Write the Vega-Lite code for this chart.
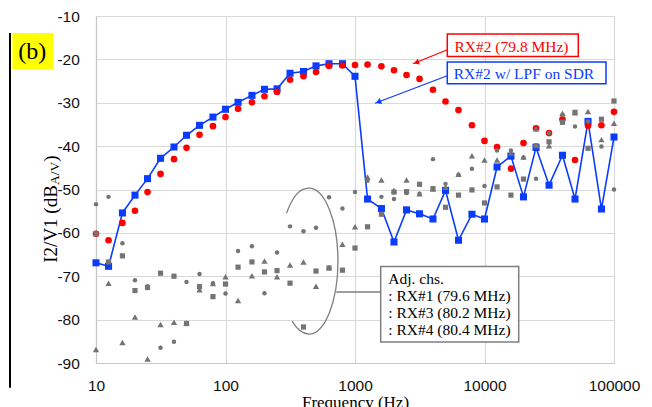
{
  "$schema": "https://vega.github.io/schema/vega-lite/v6.json",
  "width": 518,
  "height": 347,
  "autosize": {"type": "none"},
  "padding": {"left": 96, "top": 16, "right": 38, "bottom": 44},
  "background": "white",
  "config": {
    "view": {"stroke": null},
    "axis": {
      "grid": true,
      "gridColor": "#d9d9d9",
      "gridWidth": 1.2,
      "domainColor": "#c8c8c8",
      "domainWidth": 1.2,
      "ticks": false,
      "tickSize": 0,
      "labelFont": "Liberation Sans",
      "labelFontSize": 15.5,
      "labelColor": "#111111",
      "labelFlush": false,
      "labelOverlap": false
    }
  },
  "datasets": {
    "meas": [
      {"f": 10, "lpf": -66.9, "rx2": -60.2, "rx1": -53.4, "rx3": -60.2, "rx4": -86.9},
      {"f": 12.5, "lpf": -67.7, "rx2": -61.7, "rx1": -51.7, "rx3": -66.7, "rx4": -71.6},
      {"f": 16, "lpf": -55.4, "rx2": -57.7, "rx1": -62.4, "rx3": -65.3, "rx4": -85.3},
      {"f": 20, "lpf": -51.3, "rx2": -54.9, "rx1": -70.9, "rx3": -73.3, "rx4": -79.4},
      {"f": 25, "lpf": -47.5, "rx2": -50.6, "rx1": -72.3, "rx3": -72.6, "rx4": -89.1},
      {"f": 31.5, "lpf": -42.8, "rx2": -46.4, "rx1": -86.5, "rx3": -69.3, "rx4": -81.1},
      {"f": 40, "lpf": -40.2, "rx2": -43.0, "rx1": -85.1, "rx3": -70.0, "rx4": -80.6},
      {"f": 50, "lpf": -37.5, "rx2": -40.4, "rx1": -71.3, "rx3": -80.9, "rx4": -80.8},
      {"f": 63, "lpf": -35.2, "rx2": -37.4, "rx1": -69.5, "rx3": -72.4, "rx4": -73.1},
      {"f": 80, "lpf": -33.3, "rx2": -35.4, "rx1": -71.6, "rx3": -74.7, "rx4": -71.7},
      {"f": 100, "lpf": -31.5, "rx2": -33.3, "rx1": -74.0, "rx3": -71.8, "rx4": -70.1},
      {"f": 125, "lpf": -29.9, "rx2": -31.4, "rx1": -64.2, "rx3": -67.9, "rx4": -75.6},
      {"f": 160, "lpf": -28.3, "rx2": -29.9, "rx1": -63.1, "rx3": -66.7, "rx4": -69.9},
      {"f": 200, "lpf": -26.9, "rx2": -28.5, "rx1": -73.9, "rx3": -69.0, "rx4": -66.5},
      {"f": 250, "lpf": -26.8, "rx2": -27.5, "rx1": -64.5, "rx3": -68.7, "rx4": -70.1},
      {"f": 315, "lpf": -23.2, "rx2": -24.7, "rx1": -58.5, "rx3": -71.6, "rx4": -67.4},
      {"f": 400, "lpf": -22.8, "rx2": -23.9, "rx1": -59.6, "rx3": -81.7, "rx4": -66.7},
      {"f": 500, "lpf": -21.5, "rx2": -22.9, "rx1": -58.8, "rx3": -68.8, "rx4": -72.3},
      {"f": 630, "lpf": -21.0, "rx2": -21.5, "rx1": -51.8, "rx3": -68.1, "rx4": -68.0},
      {"f": 800, "lpf": -21.0, "rx2": -21.4, "rx1": -54.4, "rx3": -68.6, "rx4": -62.6},
      {"f": 1000, "lpf": -23.9, "rx2": -21.3, "rx1": -50.6, "rx3": -63.5, "rx4": -58.6},
      {"f": 1250, "lpf": -52.2, "rx2": -21.2, "rx1": -48.0, "rx3": -58.6, "rx4": -47.1},
      {"f": 1600, "lpf": -54.4, "rx2": -21.6, "rx1": -51.7, "rx3": -55.7, "rx4": -47.8},
      {"f": 2000, "lpf": -62.1, "rx2": -22.5, "rx1": -52.2, "rx3": -50.6, "rx4": -50.2},
      {"f": 2500, "lpf": -54.7, "rx2": -23.6, "rx1": -50.8, "rx3": -50.5, "rx4": -47.8},
      {"f": 3150, "lpf": -55.6, "rx2": -24.5, "rx1": -51.0, "rx3": -48.8, "rx4": -51.0},
      {"f": 4000, "lpf": -56.8, "rx2": -27.0, "rx1": -43.0, "rx3": -49.8, "rx4": -49.9},
      {"f": 5000, "lpf": -50.2, "rx2": -29.7, "rx1": -48.7, "rx3": -54.1, "rx4": -49.5},
      {"f": 6300, "lpf": -61.7, "rx2": -31.7, "rx1": -46.6, "rx3": -51.3, "rx4": -46.5},
      {"f": 8000, "lpf": -55.7, "rx2": -35.2, "rx1": -45.2, "rx3": -50.1, "rx4": -42.2},
      {"f": 10000, "lpf": -56.8, "rx2": -38.8, "rx1": -49.2, "rx3": -53.1, "rx4": -43.2},
      {"f": 12500, "lpf": -44.8, "rx2": -40.2, "rx1": -41.0, "rx3": -49.4, "rx4": -43.2},
      {"f": 16000, "lpf": -42.3, "rx2": -45.2, "rx1": -41.0, "rx3": -51.3, "rx4": -41.6},
      {"f": 20000, "lpf": -51.7, "rx2": -39.3, "rx1": -42.6, "rx3": -47.6, "rx4": -42.5},
      {"f": 25000, "lpf": -40.3, "rx2": -35.9, "rx1": -47.5, "rx3": -39.9, "rx4": -36.0},
      {"f": 31500, "lpf": -49.0, "rx2": -37.0, "rx1": -37.0, "rx3": -39.0, "rx4": -39.9},
      {"f": 40000, "lpf": -42.1, "rx2": -33.8, "rx1": -32.8, "rx3": -34.5, "rx4": -32.4},
      {"f": 50000, "lpf": -52.2, "rx2": -43.2, "rx1": -35.5, "rx3": -32.2, "rx4": -32.3},
      {"f": 63000, "lpf": -34.3, "rx2": -35.3, "rx1": -34.3, "rx3": -40.5, "rx4": -32.0},
      {"f": 80000, "lpf": -54.5, "rx2": -35.2, "rx1": -40.1, "rx3": -33.8, "rx4": -38.5},
      {"f": 100000, "lpf": -37.9, "rx2": -32.1, "rx1": -50.0, "rx3": -29.6, "rx4": -34.7}
    ]
  },
  "layer": [
    {
      "data": {"name": "meas"},
      "mark": {"type": "line", "color": "#0a3cff", "strokeWidth": 1.6},
      "encoding": {
        "x": {
          "field": "f", "type": "quantitative",
          "scale": {"type": "log", "domain": [10, 100000], "nice": false},
          "axis": {
            "values": [10, 100, 1000, 10000, 100000],
            "format": "d",
            "labelPadding": 15.6,
            "title": "Frequency (Hz)",
            "titleFont": "Liberation Serif",
            "titleFontSize": 17,
            "titleFontWeight": "normal",
            "titleColor": "#000000",
            "titleBaseline": "alphabetic",
            "titleY": 44
          }
        },
        "y": {
          "field": "lpf", "type": "quantitative",
          "scale": {"domain": [-90, -10], "nice": false, "zero": false},
          "axis": {
            "values": [-90, -80, -70, -60, -50, -40, -30, -20, -10],
            "labelExpr": "toString(datum.value)",
            "labelPadding": 16.7,
            "title": null
          }
        }
      }
    },
    {
      "data": {"name": "meas"},
      "mark": {"type": "point", "shape": "square", "filled": true, "color": "#0a3cff", "size": 50, "opacity": 1},
      "encoding": {
        "x": {"field": "f", "type": "quantitative"},
        "y": {"field": "lpf", "type": "quantitative"}
      }
    },
    {
      "data": {"name": "meas"},
      "mark": {"type": "point", "shape": "circle", "filled": true, "color": "#ff0000", "size": 44, "opacity": 1},
      "encoding": {
        "x": {"field": "f", "type": "quantitative"},
        "y": {"field": "rx2", "type": "quantitative"}
      }
    },
    {
      "data": {"name": "meas"},
      "mark": {"type": "point", "shape": "circle", "filled": true, "color": "#747474", "size": 20, "opacity": 1},
      "encoding": {
        "x": {"field": "f", "type": "quantitative"},
        "y": {"field": "rx1", "type": "quantitative"}
      }
    },
    {
      "data": {"name": "meas"},
      "mark": {"type": "point", "shape": "square", "filled": true, "color": "#747474", "size": 27, "opacity": 1},
      "encoding": {
        "x": {"field": "f", "type": "quantitative"},
        "y": {"field": "rx3", "type": "quantitative"}
      }
    },
    {
      "data": {"name": "meas"},
      "mark": {"type": "point", "shape": "triangle-up", "filled": true, "color": "#747474", "size": 40, "opacity": 1},
      "encoding": {
        "x": {"field": "f", "type": "quantitative"},
        "y": {"field": "rx4", "type": "quantitative"}
      }
    },
    {
      "data": {"values": [{"x": 439, "y": -66.49}]},
      "mark": {"type": "point", "shape": "M-0.3026,-0.6561 C-0.2264,-0.8746 -0.1161,-1 0,-1 C0.2215,-1 0.401,-0.5523 0.401,0 C0.401,0.5523 0.2215,1 0,1 C-0.0811,1 -0.1603,0.9386 -0.2271,0.8241", "size": 21316, "filled": false, "stroke": "#7f7f7f", "strokeWidth": 1.3, "opacity": 1},
      "encoding": {
        "x": {"field": "x", "type": "quantitative"},
        "y": {"field": "y", "type": "quantitative"}
      }
    },
    {
      "data": {"values": [{"x": 717, "x2": 1579, "y": -73.63, "y2": -73.63}]},
      "mark": {"type": "rule", "color": "#7f7f7f", "strokeWidth": 1.3},
      "encoding": {
        "x": {"field": "x", "type": "quantitative"},
        "x2": {"field": "x2"},
        "y": {"field": "y", "type": "quantitative"},
        "y2": {"field": "y2"}
      }
    },
    {
      "data": {"values": [{"x": 1579, "x2": 18370, "y": -67.73, "y2": -85.16}]},
      "mark": {"type": "rect", "fill": "white", "stroke": "#7f7f7f", "strokeWidth": 1.5},
      "encoding": {
        "x": {"field": "x", "type": "quantitative"},
        "x2": {"field": "x2"},
        "y": {"field": "y", "type": "quantitative"},
        "y2": {"field": "y2"}
      }
    },
    {
      "data": {"values": [
        {"x": 1807, "y": -71.72, "t": "Adj. chs."},
        {"x": 1807, "y": -75.75, "t": ": RX#1 (79.6 MHz)"},
        {"x": 1807, "y": -79.67, "t": ": RX#3 (80.2 MHz)"},
        {"x": 1807, "y": -83.59, "t": ": RX#4 (80.4 MHz)"}
      ]},
      "mark": {"type": "text", "font": "Liberation Serif", "fontSize": 15.5, "color": "#000000", "align": "left", "baseline": "alphabetic"},
      "encoding": {
        "x": {"field": "x", "type": "quantitative"},
        "y": {"field": "y", "type": "quantitative"},
        "text": {"field": "t"}
      }
    },
    {
      "data": {"values": [{"x": 5160, "x2": 2805, "y": -17.78, "y2": -21.0}]},
      "mark": {"type": "rule", "color": "#ff0000", "strokeWidth": 1.2},
      "encoding": {
        "x": {"field": "x", "type": "quantitative"},
        "x2": {"field": "x2"},
        "y": {"field": "y", "type": "quantitative"},
        "y2": {"field": "y2"}
      }
    },
    {
      "data": {"values": [{"x": 2974, "y": -20.73}]},
      "mark": {"type": "point", "shape": "triangle-up", "filled": true, "color": "#ff0000", "size": 40, "angle": 250.6, "opacity": 1},
      "encoding": {
        "x": {"field": "x", "type": "quantitative"},
        "y": {"field": "y", "type": "quantitative"}
      }
    },
    {
      "data": {"values": [{"x": 5160, "x2": 1427, "y": -23.77, "y2": -30.11}]},
      "mark": {"type": "rule", "color": "#0a3cff", "strokeWidth": 1.2},
      "encoding": {
        "x": {"field": "x", "type": "quantitative"},
        "x2": {"field": "x2"},
        "y": {"field": "y", "type": "quantitative"},
        "y2": {"field": "y2"}
      }
    },
    {
      "data": {"values": [{"x": 1514, "y": -29.83}]},
      "mark": {"type": "point", "shape": "triangle-up", "filled": true, "color": "#0a3cff", "size": 40, "angle": 249.4, "opacity": 1},
      "encoding": {
        "x": {"field": "x", "type": "quantitative"},
        "y": {"field": "y", "type": "quantitative"}
      }
    },
    {
      "data": {"values": [{"x": 5160, "x2": 53010, "y": -14.16, "y2": -19.32}]},
      "mark": {"type": "rect", "fill": "white", "stroke": "#ff0000", "strokeWidth": 1.5},
      "encoding": {
        "x": {"field": "x", "type": "quantitative"},
        "x2": {"field": "x2"},
        "y": {"field": "y", "type": "quantitative"},
        "y2": {"field": "y2"}
      }
    },
    {
      "data": {"values": [{"x": 5160, "x2": 86760, "y": -20.61, "y2": -25.61}]},
      "mark": {"type": "rect", "fill": "white", "stroke": "#0a3cff", "strokeWidth": 1.5},
      "encoding": {
        "x": {"field": "x", "type": "quantitative"},
        "x2": {"field": "x2"},
        "y": {"field": "y", "type": "quantitative"},
        "y2": {"field": "y2"}
      }
    },
    {
      "data": {"values": [{"x": 16160, "y": -18.35, "t": "RX#2 (79.8 MHz)"}]},
      "mark": {"type": "text", "font": "Liberation Serif", "fontSize": 15.5, "color": "#ff0000", "align": "center", "baseline": "alphabetic"},
      "encoding": {
        "x": {"field": "x", "type": "quantitative"},
        "y": {"field": "y", "type": "quantitative"},
        "text": {"field": "t"}
      }
    },
    {
      "data": {"values": [{"x": 20180, "y": -24.58, "t": "RX#2 w/ LPF on SDR"}]},
      "mark": {"type": "text", "font": "Liberation Serif", "fontSize": 15.5, "color": "#0a3cff", "align": "center", "baseline": "alphabetic"},
      "encoding": {
        "x": {"field": "x", "type": "quantitative"},
        "y": {"field": "y", "type": "quantitative"},
        "text": {"field": "t"}
      }
    },
    {
      "data": {"values": [{"x": 2.258, "x2": 4.68, "y": -13.93, "y2": -22.23}]},
      "mark": {"type": "rect", "fill": "#ffff00"},
      "encoding": {
        "x": {"field": "x", "type": "quantitative"},
        "x2": {"field": "x2"},
        "y": {"field": "y", "type": "quantitative"},
        "y2": {"field": "y2"}
      }
    },
    {
      "data": {"values": [{"x": 3.216, "y": -19.87, "t": "(b)"}]},
      "mark": {"type": "text", "font": "Liberation Serif", "fontSize": 24, "color": "#000000", "align": "center", "baseline": "alphabetic"},
      "encoding": {
        "x": {"field": "x", "type": "quantitative"},
        "y": {"field": "y", "type": "quantitative"},
        "text": {"field": "t"}
      }
    },
    {
      "data": {"values": [{"x": 2.167, "x2": 2.167, "y": -13.93, "y2": -95.7}]},
      "mark": {"type": "rule", "color": "#000000", "strokeWidth": 2},
      "encoding": {
        "x": {"field": "x", "type": "quantitative"},
        "x2": {"field": "x2"},
        "y": {"field": "y", "type": "quantitative"},
        "y2": {"field": "y2"}
      }
    },
    {
      "data": {"values": [
        {"x": 4.955, "y": -66.88, "t": "I2/V1 (dB"},
        {"x": 4.955, "y": -43.6, "t": ")"}
      ]},
      "mark": {"type": "text", "font": "Liberation Serif", "fontSize": 19, "color": "#000000", "align": "left", "baseline": "alphabetic", "angle": 270},
      "encoding": {
        "x": {"field": "x", "type": "quantitative"},
        "y": {"field": "y", "type": "quantitative"},
        "text": {"field": "t"}
      }
    },
    {
      "data": {"values": [{"x": 5.16, "y": -48.99, "t": "A/V"}]},
      "mark": {"type": "text", "font": "Liberation Serif", "fontSize": 13.5, "color": "#000000", "align": "left", "baseline": "alphabetic", "angle": 270},
      "encoding": {
        "x": {"field": "x", "type": "quantitative"},
        "y": {"field": "y", "type": "quantitative"},
        "text": {"field": "t"}
      }
    }
  ]
}
